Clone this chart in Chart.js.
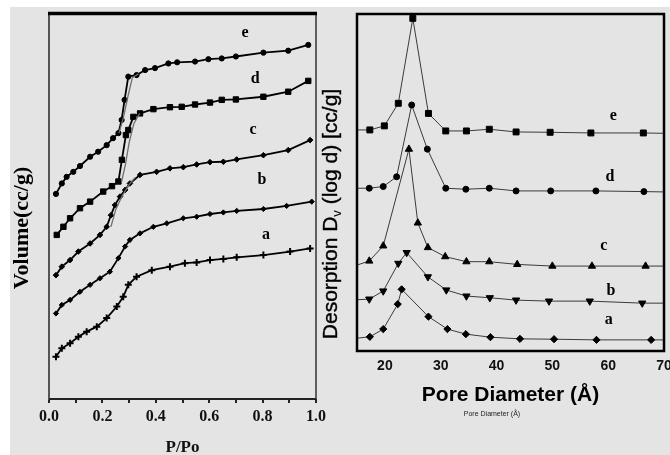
<!DOCTYPE html>
<html>
<head>
<meta charset="utf-8">
<script src="https://cdn.jsdelivr.net/npm/chart.js@4/dist/chart.umd.min.js"></script>
<style>
  html, body { margin: 0; padding: 0; background: #ffffff; }
  #page { position: relative; width: 670px; height: 455px; overflow: hidden; background: #ffffff; }
  #bg { position: absolute; left: 10px; top: 7px; width: 660px; height: 448px; background: #e4e4e4; }
  #left { position: absolute; left: 0; top: 0; }
  #right { position: absolute; left: 318px; top: 0; }
</style>
</head>
<body>
<div id="page">
  <div id="bg"></div>
  <canvas id="left" width="340" height="455"></canvas>
  <canvas id="right" width="352" height="455"></canvas>
</div>
<script>
// ---------- Left panel: N2 isotherms (P/Po vs Volume, curves offset) ----------
const seriesNames = ['a', 'b', 'c', 'd', 'e'];
const isoTickLabels = ['0.0', '0.2', '0.4', '0.6', '0.8', '1.0'];

const isoP_a = [0.026,0.048,0.079,0.110,0.141,0.179,0.216,0.254,0.278,0.297,0.328,0.385,0.453,0.509,0.553,0.603,0.653,0.703,0.803,0.903,0.978];
const isoV_a = [1.09,1.31,1.44,1.61,1.74,1.87,2.09,2.39,2.64,2.95,3.16,3.33,3.42,3.51,3.53,3.59,3.62,3.66,3.72,3.81,3.89];

const isoP_b = [0.026,0.048,0.079,0.116,0.154,0.191,0.228,0.260,0.285,0.303,0.341,0.391,0.441,0.503,0.553,0.603,0.653,0.703,0.803,0.890,0.984];
const isoV_b = [2.21,2.43,2.56,2.77,2.95,3.12,3.29,3.64,3.94,4.11,4.28,4.45,4.54,4.67,4.71,4.78,4.82,4.86,4.91,4.99,5.10];

const isoP_c = [0.026,0.048,0.079,0.110,0.154,0.191,0.216,0.232,0.247,0.266,0.285,0.303,0.341,0.403,0.453,0.503,0.553,0.603,0.653,0.703,0.803,0.896,0.978];
const isoV_c = [3.20,3.42,3.59,3.81,4.02,4.24,4.45,4.75,5.01,5.23,5.40,5.57,5.79,5.87,5.96,5.99,6.06,6.12,6.13,6.19,6.30,6.43,6.69];

const isoP_d = [0.029,0.054,0.079,0.116,0.154,0.203,0.236,0.260,0.273,0.288,0.297,0.316,0.341,0.391,0.453,0.497,0.547,0.603,0.647,0.700,0.803,0.896,0.971];
const isoV_d = [4.24,4.45,4.67,4.93,5.10,5.36,5.50,5.62,6.18,6.82,6.95,7.29,7.38,7.49,7.54,7.55,7.61,7.66,7.73,7.74,7.81,7.94,8.22];

const isoP_e = [0.026,0.048,0.066,0.091,0.116,0.154,0.184,0.216,0.240,0.260,0.272,0.283,0.297,0.328,0.360,0.397,0.447,0.480,0.547,0.597,0.647,0.700,0.803,0.896,0.971];
const isoV_e = [5.30,5.57,5.74,5.87,6.02,6.26,6.39,6.56,6.74,6.87,7.21,7.73,8.33,8.37,8.50,8.55,8.67,8.70,8.72,8.78,8.80,8.85,8.95,9.00,9.15];

// hysteresis (second branch) in the condensation step
const desP_c = [0.232,0.250,0.272,0.298,0.322];
const desV_c = [4.45,4.90,5.22,5.52,5.72];
const desP_d = [0.272,0.286,0.300,0.318,0.340];
const desV_d = [5.62,6.05,6.62,7.12,7.38];
const desP_e = [0.262,0.278,0.295,0.312,0.335];
const desV_e = [6.87,7.25,7.80,8.30,8.40];

const isoLabelP = [0.813, 0.798, 0.764, 0.772, 0.734];
const isoLabelV = [4.24, 5.66, 6.95, 8.27, 9.46];

// ---------- Right panel: pore size distribution ----------
const psdTickLabels = ['20', '30', '40', '50', '60', '70'];

const psdD_a = [15,17.3,19.7,22.3,23.0,27.8,31.2,34.5,38.9,44.2,50.3,57.9,67.7,70];
const psdV_a = [0.38,0.42,0.65,1.39,1.83,1.02,0.65,0.50,0.41,0.36,0.35,0.33,0.33,0.33];

const psdD_b = [15,17.2,19.7,22.4,23.9,27.7,31.0,34.6,38.8,43.5,49.4,56.7,66.1,70];
const psdV_b = [1.52,1.54,1.78,2.60,2.92,2.20,1.81,1.63,1.58,1.51,1.48,1.48,1.42,1.42];

const psdD_c = [15,17.2,19.7,24.3,25.9,27.7,30.8,34.6,38.7,43.7,50.0,57.1,66.7,70];
const psdV_c = [2.55,2.67,3.12,5.99,3.80,3.07,2.80,2.65,2.65,2.57,2.52,2.52,2.52,2.52];

const psdD_d = [15,17.2,19.7,22.1,24.8,27.6,30.9,34.5,38.7,43.5,49.7,57.8,66.4,70];
const psdV_d = [4.83,4.83,4.88,5.17,7.30,5.99,4.83,4.80,4.83,4.75,4.75,4.75,4.73,4.72];

const psdD_e = [15,17.3,19.9,22.4,25.0,27.8,30.9,34.6,38.7,43.5,49.6,56.9,66.3,70];
const psdV_e = [6.56,6.56,6.68,7.35,9.87,7.05,6.53,6.53,6.58,6.50,6.49,6.47,6.47,6.46];

const psdLabelD = [60.1, 60.5, 59.2, 60.3, 60.9];
const psdLabelV = [0.92, 1.78, 3.12, 5.16, 6.97];

// ---------- helpers ----------
const zip = (xs, ys) => xs.map((x, i) => ({ x: x, y: ys[i] }));

const frameLeft = {
  id: 'frameLeft',
  afterDatasetsDraw(chart) {
    const { ctx, chartArea: a } = chart;
    ctx.save();
    ctx.strokeStyle = '#555';
    ctx.lineWidth = 2;
    ctx.beginPath(); ctx.moveTo(a.left, a.top); ctx.lineTo(a.left, a.bottom + 1); ctx.stroke();
    ctx.lineWidth = 1.5;
    ctx.strokeStyle = '#333';
    ctx.beginPath(); ctx.moveTo(a.right, a.top); ctx.lineTo(a.right, a.bottom); ctx.stroke();
    ctx.strokeStyle = '#222';
    ctx.lineWidth = 2;
    ctx.beginPath(); ctx.moveTo(a.left, a.bottom); ctx.lineTo(a.right, a.bottom); ctx.stroke();
    ctx.strokeStyle = '#000';
    ctx.lineWidth = 3.5;
    ctx.beginPath(); ctx.moveTo(a.left - 1, a.top + 1.5); ctx.lineTo(a.right + 1, a.top + 1.5); ctx.stroke();
    // curve letters
    ctx.fillStyle = '#000';
    ctx.font = 'bold 16px "Liberation Serif", "DejaVu Serif", serif';
    ctx.textAlign = 'center';
    ctx.textBaseline = 'middle';
    const sx = chart.scales.x, sy = chart.scales.y;
    seriesNames.forEach((n, i) => {
      ctx.fillText(n, sx.getPixelForValue(isoLabelP[i]), sy.getPixelForValue(isoLabelV[i]));
    });
    // y title
    ctx.translate(22, 228);
    ctx.rotate(-Math.PI / 2);
    ctx.font = 'bold 22px "Liberation Serif", "DejaVu Serif", serif';
    ctx.fillText('Volume(cc/g)', 0, 0);
    ctx.restore();
  }
};

const frameRight = {
  id: 'frameRight',
  afterDatasetsDraw(chart) {
    const { ctx, chartArea: a } = chart;
    ctx.save();
    ctx.strokeStyle = '#000';
    ctx.lineWidth = 2.5;
    ctx.strokeRect(a.left, a.top, a.right - a.left, a.bottom - a.top);
    ctx.fillStyle = '#000';
    ctx.font = 'bold 16px "Liberation Serif", "DejaVu Serif", serif';
    ctx.textAlign = 'center';
    ctx.textBaseline = 'middle';
    const sx = chart.scales.x, sy = chart.scales.y;
    seriesNames.forEach((n, i) => {
      ctx.fillText(n, sx.getPixelForValue(psdLabelD[i]), sy.getPixelForValue(psdLabelV[i]));
    });
    // tiny caption under the axis title
    ctx.font = '7px "Liberation Sans", Arial, sans-serif';
    ctx.fillStyle = '#222';
    ctx.fillText('Pore Diameter (Å)', 492 - 318, 414);
    // y title with subscript
    const big = '21px "Liberation Sans", Arial, sans-serif';
    const small = '13px "Liberation Sans", Arial, sans-serif';
    const p1 = 'Desorption D', p2 = 'v', p3 = ' (log d) [cc/g]';
    ctx.font = big; const w1 = ctx.measureText(p1).width, w3 = ctx.measureText(p3).width;
    ctx.font = small; const w2 = ctx.measureText(p2).width;
    const total = w1 + w2 + w3;
    ctx.translate(331 - 318, 214);
    ctx.rotate(-Math.PI / 2);
    ctx.textAlign = 'left';
    ctx.fillStyle = '#000';
    ctx.strokeStyle = '#000';
    ctx.lineWidth = 0.4;
    let x0 = -total / 2;
    ctx.font = big; ctx.fillText(p1, x0, 0); ctx.strokeText(p1, x0, 0); x0 += w1;
    ctx.font = small; ctx.fillText(p2, x0, 6); x0 += w2;
    ctx.font = big; ctx.fillText(p3, x0, 0); ctx.strokeText(p3, x0, 0);
    ctx.restore();
  }
};

function isoSet(px, vy, style, r, bw) {
  return {
    data: zip(px, vy), showLine: true, borderColor: '#000', borderWidth: 1.8,
    pointStyle: style, pointRadius: r, pointBackgroundColor: '#000', pointBorderColor: '#000',
    pointBorderWidth: bw || 1, tension: 0
  };
}
function desSet(px, vy) {
  return {
    data: zip(px, vy), showLine: true, borderColor: '#6f6f6f', borderWidth: 1.3,
    pointRadius: 0, tension: 0
  };
}

new Chart(document.getElementById('left'), {
  type: 'scatter',
  data: {
    datasets: [
      desSet(desP_c, desV_c), desSet(desP_d, desV_d), desSet(desP_e, desV_e),
      isoSet(isoP_a, isoV_a, 'cross', 3.5, 2),
      isoSet(isoP_b, isoV_b, 'rectRot', 2.6),
      isoSet(isoP_c, isoV_c, 'rectRot', 2.8),
      isoSet(isoP_d, isoV_d, 'rect', 3.8),
      isoSet(isoP_e, isoV_e, 'circle', 2.6)
    ]
  },
  options: {
    responsive: false, animation: false, devicePixelRatio: 1,
    layout: { padding: { left: 49, top: 12, right: 24, bottom: 0 } },
    plugins: { legend: { display: false }, tooltip: { enabled: false } },
    scales: {
      x: {
        type: 'linear', min: 0, max: 1,
        afterBuildTicks: (s) => { s.ticks = isoTickLabels.flatMap((t, i) => i < isoTickLabels.length - 1 ? [{ value: +t }, { value: +t + 0.1 }] : [{ value: +t }]); },
        afterFit: (s) => { s.height = 56; s.paddingLeft = 0; s.paddingRight = 0; },
        ticks: {
          autoSkip: false, maxRotation: 0, padding: 4, color: '#111',
          font: { family: '"Liberation Serif", "DejaVu Serif", serif', size: 16, weight: 'bold' },
          callback: (v, i) => (i % 2 === 0 ? isoTickLabels[i / 2] : '')
        },
        grid: { display: true, drawOnChartArea: false, drawTicks: true, tickLength: 4, color: '#222', lineWidth: 2 },
        border: { display: false },
        title: {
          display: true, text: 'P/Po', color: '#111',
          font: { family: '"Liberation Serif", "DejaVu Serif", serif', size: 17, weight: 'bold' },
          padding: { top: 0, bottom: -3 }
        }
      },
      y: { type: 'linear', min: 0, max: 10, display: false }
    }
  },
  plugins: [frameLeft]
});

function psdSet(dx, vy, style, r, rot) {
  return {
    data: zip(dx, vy), showLine: true, borderColor: '#3a3a3a', borderWidth: 1,
    pointStyle: style, pointRotation: rot || 0,
    pointRadius: (c) => (c.dataIndex === 0 || c.dataIndex === dx.length - 1 ? 0 : r),
    pointBackgroundColor: '#000', pointBorderColor: '#000', pointBorderWidth: 1, tension: 0
  };
}

new Chart(document.getElementById('right'), {
  type: 'scatter',
  data: {
    datasets: [
      psdSet(psdD_a, psdV_a, 'rectRot', 3.6),
      psdSet(psdD_b, psdV_b, 'triangle', 4.2, 180),
      psdSet(psdD_c, psdV_c, 'triangle', 4.2),
      psdSet(psdD_d, psdV_d, 'circle', 3),
      psdSet(psdD_e, psdV_e, 'rect', 4.2)
    ]
  },
  options: {
    responsive: false, animation: false, devicePixelRatio: 1,
    layout: { padding: { left: 39, top: 14, right: 6, bottom: 0 } },
    plugins: { legend: { display: false }, tooltip: { enabled: false } },
    scales: {
      x: {
        type: 'linear', min: 15, max: 70,
        afterBuildTicks: (s) => { s.ticks = psdTickLabels.map((t) => ({ value: +t })); },
        afterFit: (s) => { s.height = 104; s.paddingLeft = 0; s.paddingRight = 0; },
        ticks: {
          autoSkip: false, maxRotation: 0, padding: 7, color: '#111',
          font: { family: '"Liberation Sans", Arial, sans-serif', size: 14, weight: 'bold' },
          callback: (v, i) => psdTickLabels[i]
        },
        grid: { display: false, drawTicks: false },
        border: { display: false },
        title: {
          display: true, text: 'Pore Diameter (Å)', color: '#000',
          font: { family: '"Liberation Sans", Arial, sans-serif', size: 21, weight: 'bold' },
          padding: { top: 0, bottom: 47 }
        }
      },
      y: { type: 'linear', min: 0, max: 10, display: false }
    }
  },
  plugins: [frameRight]
});
</script>
</body>
</html>
